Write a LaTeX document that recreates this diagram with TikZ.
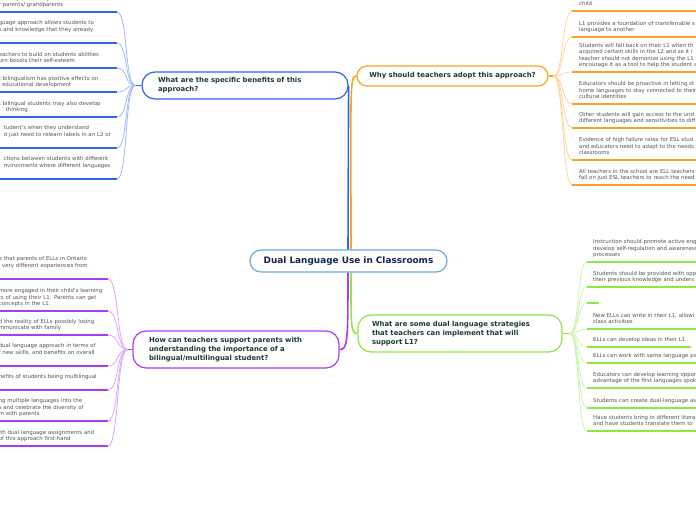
\documentclass[tikz,border=0pt]{standalone}
\usepackage{fontspec}
\setmainfont{DejaVu Sans}
\usetikzlibrary{positioning}

\definecolor{bblue}{RGB}{47,99,240}
\definecolor{borange}{RGB}{247,163,37}
\definecolor{bpurple}{RGB}{170,60,240}
\definecolor{bgreen}{RGB}{145,230,70}
\definecolor{rootline}{RGB}{110,168,220}
\definecolor{titletext}{RGB}{25,60,48}
\definecolor{roottext}{RGB}{22,36,80}
\definecolor{leaftext}{RGB}{85,85,85}

\begin{document}
\begin{tikzpicture}[x=1pt, y=-1pt,
    rootnode/.style={draw=rootline, line width=1.2pt, fill=white, rounded corners=11pt, minimum width=197pt, minimum height=22pt, inner sep=0pt, font=\fontsize{8.9}{10}\selectfont\bfseries, text=roottext},
    topic/.style={draw=#1, line width=1.2pt, fill=white, inner ysep=0pt, align=left, font=\fontsize{6.9}{9}\selectfont\bfseries, text=titletext},
    % underline under every leaf text
    leaf/.style={inner xsep=0pt, inner ysep=3pt, align=left, font=\fontsize{5.4}{6.5}\selectfont, text=leaftext,
        append after command={\pgfextra{\let\leafnode\tikzlastnode} (\leafnode.south west) edge[uline=#1] (\leafnode.south east)}},
    lleaf/.style={leaf=#1, anchor=south east, text width=118pt},
    rleaf/.style={leaf=#1, anchor=south west, inner xsep=7pt, text width=130pt},
    twig/.style={#1!45, line width=0.8pt},
    uline/.style={#1, line width=2pt},
    branch/.style={#1, line width=1.6pt}]

    \useasboundingbox (0,0) rectangle (696,520);
    \clip (0,0) rectangle (696,520);
    \fill[white] (0,0) rectangle (696,520);

    % centre and the four questions
    \node[rootnode] (root) at (348.5,261) {Dual Language Use in Classrooms};
    \node[topic=bblue, text width=174pt, inner xsep=16pt, minimum height=27pt, rounded corners=13pt] (bene) at (245,85.5) {What are the specific benefits of this\\ approach?};
    \node[topic=borange, minimum width=191pt, minimum height=20pt, rounded corners=10pt, inner xsep=0pt] (why) at (452.5,76) {Why should teachers adopt this approach?};
    \node[topic=bpurple, text width=174pt, inner xsep=16pt, minimum height=37pt, rounded corners=13pt] (par) at (236,349.5) {How can teachers support parents with\\ understanding the importance of a\\ bilingual/multilingual student?};
    \node[topic=bgreen, text width=176pt, inner xsep=14pt, minimum height=37pt, rounded corners=13pt] (strat) at (460,333.5) {What are some dual language strategies\\ that teachers can implement that will\\ support L1?};

    \draw[branch=bblue] ([xshift=-0.5pt]root.north) -- (bene.east);
    \draw[branch=borange] ([xshift=2.5pt]root.north) .. controls +(0,-160) and +(-7,0) .. (why.west);
    \draw[branch=bpurple] ([xshift=-0.5pt]root.south) .. controls +(0,70) and +(8,0) .. (par.east);
    \draw[branch=bgreen] ([xshift=2.5pt]root.south) .. controls +(0,52) and +(-7,0) .. (strat.west);

    % benefits (left, blue)
    \node[lleaf=bblue] (b1) at (117,12) {identity and safety to use their L1 to\\ r parents/ grandparents\strut};
    \node[lleaf=bblue] (b2) at (117,43) {guage approach allows students to\\ s and knowledge that they already\\ \strut};
    \node[lleaf=bblue] (b3) at (117,68) {eachers to build on students abilities\\ urn boosts their self-esteem\strut};
    \node[lleaf=bblue] (b4) at (117,92) {t bilingualism has positive effects on\\ l educational development\strut};
    \node[lleaf=bblue] (b5) at (117,117) {t bilingual students may also develop\\ \hspace*{7pt}thinking\strut};
    \node[lleaf=bblue] (b6) at (117,148) {\hspace*{5pt}tudent's when they understand\\ \hspace*{5pt}d just need to relearn labels in an L2 or\\ \strut};
    \node[lleaf=bblue] (b7) at (117,179) {\hspace*{5pt}ctions between students with different\\ \hspace*{5pt}nvironments where different languages\\ \strut};

    \coordinate (bhub) at ([xshift=-6pt]bene.west);
    \draw[branch=bblue] (bene.west) -- (bhub);
    \draw[twig=bblue] (bhub) .. controls +(-11,0) and +(11,0) .. (b1.south east);
    \draw[twig=bblue] (bhub) .. controls +(-11,0) and +(11,0) .. (b2.south east);
    \draw[twig=bblue] (bhub) .. controls +(-11,0) and +(11,0) .. (b3.south east);
    \draw[twig=bblue] (bhub) .. controls +(-11,0) and +(11,0) .. (b4.south east);
    \draw[twig=bblue] (bhub) .. controls +(-11,0) and +(11,0) .. (b5.south east);
    \draw[twig=bblue] (bhub) .. controls +(-11,0) and +(11,0) .. (b6.south east);
    \draw[twig=bblue] (bhub) .. controls +(-11,0) and +(11,0) .. (b7.south east);

    % why (right, orange)
    \node[rleaf=borange] (w1) at (572,11) {to validate the linguistic and cultural aspects\\ child\strut};
    \node[rleaf=borange] (w2) at (572,37) {L1 provides a foundation of transferrable s\\ language to another\strut};
    \node[rleaf=borange] (w3) at (572,72) {Students will fall back on their L1 when th\\ acquired certain skills in the L2 and so it i\\ teacher should not demonize using the L1\\ encourage it as a tool to help the student a\strut};
    \node[rleaf=borange] (w4) at (572,104) {Educators should be proactive in letting st\\ home languages to stay connected to their\\ cultural identities\strut};
    \node[rleaf=borange] (w5) at (572,128) {Other students will gain access to the und\\ different languages and sensitivities to diff\strut};
    \node[rleaf=borange] (w6) at (572,160) {Evidence of high failure rates for ESL stud\\ and educators need to adapt to the needs\\ classrooms\strut};
    \node[rleaf=borange] (w7) at (572,185) {All teachers in the school are ELL teachers\\ fall on just ESL teachers to reach the need\strut};

    \coordinate (whub) at ([xshift=5pt]why.east);
    \draw[branch=borange] (why.east) -- (whub);
    \draw[twig=borange] (whub) .. controls +(10,0) and +(-10,0) .. (w1.south west);
    \draw[twig=borange] (whub) .. controls +(10,0) and +(-10,0) .. (w2.south west);
    \draw[twig=borange] (whub) .. controls +(10,0) and +(-10,0) .. (w3.south west);
    \draw[twig=borange] (whub) .. controls +(10,0) and +(-10,0) .. (w4.south west);
    \draw[twig=borange] (whub) .. controls +(10,0) and +(-10,0) .. (w5.south west);
    \draw[twig=borange] (whub) .. controls +(10,0) and +(-10,0) .. (w6.south west);
    \draw[twig=borange] (whub) .. controls +(10,0) and +(-10,0) .. (w7.south west);

    % parents (left, purple)
    \node[lleaf=bpurple, text width=109pt] (p1) at (108,279) {e that parents of ELLs in Ontario\\ l very different experiences from\\ \strut};
    \node[lleaf=bpurple, text width=109pt] (p2) at (108,311) {more engaged in their child's learning\\ ts of using their L1. Parents can get\\ concepts in the L1.\strut};
    \node[lleaf=bpurple, text width=109pt] (p3) at (108,335) {d the reality of ELLs possibly losing\\ mmunicate with family\strut};
    \node[lleaf=bpurple, text width=109pt] (p4) at (108,366) {dual language approach in terms of\\ f new skills, and benefits on overall\\ \strut};
    \node[lleaf=bpurple, text width=109pt] (p5) at (108,390) {nefits of students being multilingual\\ \strut};
    \node[lleaf=bpurple, text width=109pt] (p6) at (108,421) {ng multiple languages into the\\ s and celebrate the diversity of\\ m with parents\strut};
    \node[lleaf=bpurple, text width=109pt] (p7) at (108,446) {ith dual language assignments and\\ of this approach first-hand\strut};

    \coordinate (phub) at ([xshift=-5pt]par.west);
    \draw[branch=bpurple] (par.west) -- (phub);
    \draw[twig=bpurple] (phub) .. controls +(-11,0) and +(11,0) .. (p1.south east);
    \draw[twig=bpurple] (phub) .. controls +(-11,0) and +(11,0) .. (p2.south east);
    \draw[twig=bpurple] (phub) .. controls +(-11,0) and +(11,0) .. (p3.south east);
    \draw[twig=bpurple] (phub) .. controls +(-11,0) and +(11,0) .. (p4.south east);
    \draw[twig=bpurple] (phub) .. controls +(-11,0) and +(11,0) .. (p5.south east);
    \draw[twig=bpurple] (phub) .. controls +(-11,0) and +(11,0) .. (p6.south east);
    \draw[twig=bpurple] (phub) .. controls +(-11,0) and +(11,0) .. (p7.south east);

    % strategies (right, green)
    \node[rleaf=bgreen, inner xsep=6pt] (g1) at (587,262) {Instruction should promote active eng\\ develop self-regulation and awareness\\ processes\strut};
    \node[rleaf=bgreen, inner xsep=6pt] (g2) at (587,287) {Students should be provided with opp\\ their previous knowledge and unders\strut};
    \node[leaf=bgreen, anchor=south west, inner xsep=6pt, minimum width=11pt] (g3) at (587,303) {\strut};
    \node[rleaf=bgreen, inner xsep=6pt] (g4) at (587,329) {New ELLs can write in their L1, allowi\\ class activities\strut};
    \node[leaf=bgreen, anchor=south west, inner xsep=6pt] (g5) at (587,347) {ELLs can develop ideas in their L1\strut};
    \node[rleaf=bgreen, inner xsep=6pt] (g6) at (587,363) {ELLs can work with same language pa\strut};
    \node[rleaf=bgreen, inner xsep=6pt] (g7) at (587,388) {Educators can develop learning oppor\\ advantage of the first languages spok\strut};
    \node[rleaf=bgreen, inner xsep=6pt] (g8) at (587,408) {Students can create dual-language as\strut};
    \node[rleaf=bgreen, inner xsep=6pt] (g9) at (587,431) {Have students bring in different litera\\ and have students translate them to\strut};

    \coordinate (ghub) at ([xshift=7pt]strat.east);
    \draw[branch=bgreen] (strat.east) -- (ghub);
    \draw[twig=bgreen] (ghub) .. controls +(10,0) and +(-10,0) .. (g1.south west);
    \draw[twig=bgreen] (ghub) .. controls +(10,0) and +(-10,0) .. (g2.south west);
    \draw[twig=bgreen] (ghub) .. controls +(10,0) and +(-10,0) .. (g3.south west);
    \draw[twig=bgreen] (ghub) .. controls +(10,0) and +(-10,0) .. (g4.south west);
    \draw[twig=bgreen] (ghub) .. controls +(10,0) and +(-10,0) .. (g5.south west);
    \draw[twig=bgreen] (ghub) .. controls +(10,0) and +(-10,0) .. (g6.south west);
    \draw[twig=bgreen] (ghub) .. controls +(10,0) and +(-10,0) .. (g7.south west);
    \draw[twig=bgreen] (ghub) .. controls +(10,0) and +(-10,0) .. (g8.south west);
    \draw[twig=bgreen] (ghub) .. controls +(10,0) and +(-10,0) .. (g9.south west);
\end{tikzpicture}
\end{document}
